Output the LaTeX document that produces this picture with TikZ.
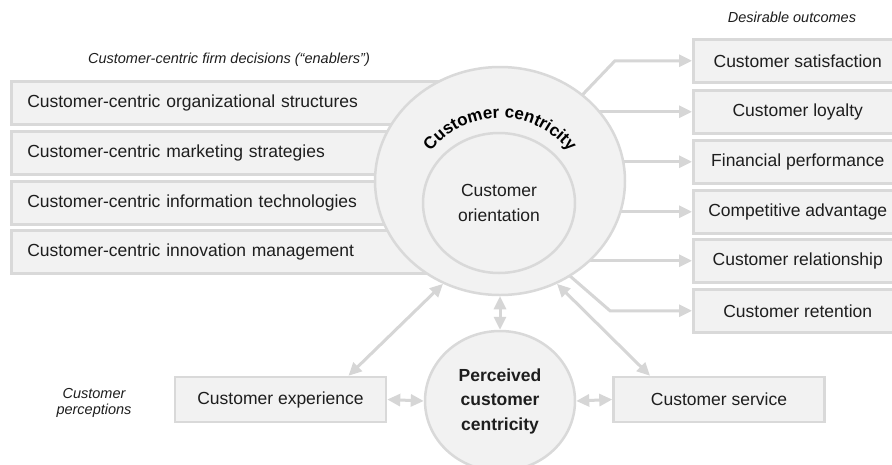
\documentclass[tikz,border=0pt]{standalone}
\usepackage{fontspec}
\setmainfont{Liberation Sans}
\usetikzlibrary{shapes.geometric,arrows.meta,decorations.text,calc}
\definecolor{boxfill}{HTML}{F2F2F2}
\definecolor{boxline}{HTML}{D9D9D9}
\definecolor{arrowc}{HTML}{D6D6D6}
\definecolor{txt}{HTML}{1E1E1E}
\tikzset{
  basefont/.style={font=\fontsize{17.5}{21}\selectfont},
  box/.style={draw=boxline, line width=2.5pt, fill=boxfill, text=txt, basefont,
    minimum height=43pt, inner sep=0pt},
  lbox/.style={box, anchor=north west, text width=444pt, align=left, inner xsep=16pt},
  rbox/.style={box, anchor=north west, minimum width=209pt},
  pbox/.style={box, minimum width=211pt, minimum height=45pt},
  bigell/.style={ellipse, draw=boxline, line width=2.5pt, fill=boxfill, inner sep=0pt, text=txt},
  lab/.style={font=\fontsize{14.5}{16}\selectfont\itshape, text=txt, align=center},
  arr/.style={draw=arrowc, line width=3pt, -{Triangle[length=13pt,width=12pt]}},
  darr/.style={draw=arrowc, line width=3pt, {Triangle[length=13pt,width=12pt]}-{Triangle[length=13pt,width=12pt]}},
}
\begin{document}
\begin{tikzpicture}[x=1pt, y=-1pt]
\useasboundingbox (0,0) rectangle (892,464);
\clip (0,0) rectangle (892,464);
\fill[white] (0,0) rectangle (892,464);

% labels
\node[lab] (lout) at (792,17) {Desirable outcomes};
\node[lab] (lfirm) at (229,60) {Customer-centric firm decisions (“enablers”)};
\node[lab] (lper) at (94,403) {Customer\\perceptions};

% left boxes (enablers)
\node[lbox] (b1) at (10,80) {Customer-centric organizational structures};
\node[lbox] (b2) at (10,130) {Customer-centric marketing strategies};
\node[lbox] (b3) at (10,180) {Customer-centric information technologies};
\node[lbox] (b4) at (10,229) {Customer-centric innovation management};

% right boxes (outcomes)
\node[rbox] (sat) at (692,38) {Customer satisfaction};
\node[rbox] (loy) at (692,89) {Customer loyalty};
\node[rbox] (fin) at (692,139) {Financial performance};
\node[rbox] (com) at (692,189) {Competitive advantage};
\node[rbox] (rel) at (692,238) {Customer relationship};
\node[rbox] (ret) at (692,288) {Customer retention};

% arrows to outcomes (start hidden under the big circle)
\coordinate (c0) at (500,181);
\draw[arr] (c0) -- ([xshift=-77pt]sat.west) -- (sat.west);
\draw[arr] (c0 |- loy.west) -- (loy.west);
\draw[arr] (c0 |- fin.west) -- (fin.west);
\draw[arr] (c0 |- com.west) -- (com.west);
\draw[arr] (c0 |- rel.west) -- (rel.west);
\draw[arr] ([shift={(-158,-66)}]ret.west) -- ([xshift=-82pt]ret.west) -- (ret.west);

% customer centricity
\node[bigell, minimum width=250pt, minimum height=228pt] (cc) at (c0) {};
\node[bigell, minimum width=152pt, minimum height=140pt, align=center,
      font=\fontsize{17.5}{25}\selectfont] (co) at (499,203) {Customer\\orientation};
\coordinate (oc) at (500,205);
\begin{scope}[color=txt]
\path[decorate, decoration={text along path, text align=center,
      text={|\fontsize{17}{17}\selectfont\bfseries|Customer centricity}}]
  (oc) ++(150:87pt) arc[start angle=150, end angle=30, radius=87pt];
\end{scope}

% customer perceptions
\node[bigell, minimum width=150pt, minimum height=140pt, align=center,
      font=\fontsize{17.5}{24.5}\selectfont\bfseries] (pc) at (500,401)
      {Perceived\\customer\\centricity};
\node[pbox] (ce) at (280.5,399.5) {Customer experience};
\node[pbox] (cs) at (719,399.5) {Customer service};

\draw[darr] (cc.south) -- (pc.north);
\draw[darr] (ce.east) -- (pc.west);
\draw[darr] (pc.east) -- (cs.west);
\draw[darr] ([xshift=68pt]ce.north) -- (cc.241);
\draw[darr] ([xshift=-69pt]cs.north) -- (cc.299);
\end{tikzpicture}
\end{document}
